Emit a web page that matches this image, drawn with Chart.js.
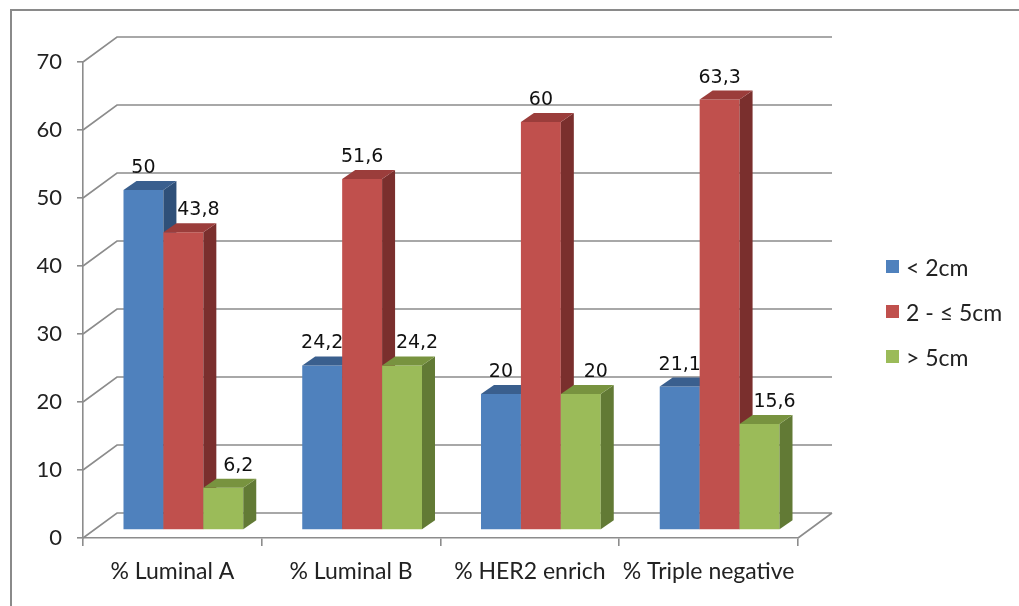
<!DOCTYPE html>
<html>
<head>
<meta charset="utf-8">
<title>Tumour size by molecular subtype</title>
<script src="https://cdn.jsdelivr.net/npm/chart.js@4.4.1/dist/chart.umd.min.js"></script>
<style>
  html, body { margin: 0; padding: 0; background: #fff; }
  #wrap { position: relative; width: 1019px; height: 606px; overflow: hidden; }
  #frame { position: absolute; left: 10px; top: 9px; width: 1100px; height: 700px;
           border-left: 2px solid #8a8a8a; border-top: 2px solid #8a8a8a; }
  #chart { position: absolute; left: 0; top: 0; }
  #legend { position: absolute; left: 886px; top: 244px; font: 23px Lato, sans-serif; color: #222; }
  #legend .item { height: 45px; display: flex; align-items: center; }
  #legend .sw { width: 13px; height: 13px; margin-right: 7px; }
</style>
</head>
<body>
<div id="wrap">
  <div id="frame"></div>
  <canvas id="chart" width="1019" height="606"></canvas>
  <div id="legend"></div>
</div>
<script>
// ===== DATA =====
const CATEGORIES = ['% Luminal A', '% Luminal B', '% HER2 enrich', '% Triple negative'];
const SERIES = ['< 2cm', '2 - ≤ 5cm', '> 5cm'];
const UNDER_2 = [50, 24.2, 20, 21.1];
const FROM_2_TO_5 = [43.8, 51.6, 60, 63.3];
const OVER_5 = [6.2, 24.2, 20, 15.6];
const Y_MAX = 70;
const Y_STEP = 10;

// front / top / side shades per series
const FRONT = ['#4f81bd', '#c0504d', '#9bbb59'];
const TOP = ['#3a5f8e', '#9b3d3b', '#78933f'];
const SIDE = ['#2f5079', '#7a2f2d', '#627a35'];

// ===== 3D LOOK =====
const WALL = { x: 34, y: -25 };      // depth of the back wall
const BAR_SHIFT = { x: 11, y: -8 };  // bars stand a third of the way into the floor
const BAR_DEPTH = { x: 13, y: -9 };  // thickness of each bar
const LINE = '#8c8c8c';

const fmt = v => String(v).replace('.', ',');

const chart3d = {
  id: 'chart3d',
  beforeDatasetsDraw(chart) {
    const { ctx, chartArea: a, scales: { y } } = chart;

    // walls and floor
    ctx.save();
    ctx.strokeStyle = LINE;
    ctx.lineWidth = 1.6;
    ctx.beginPath();
    y.ticks.forEach(t => {
      const py = y.getPixelForValue(t.value);
      ctx.moveTo(a.left, py);
      ctx.lineTo(a.left + WALL.x, py + WALL.y);
      ctx.lineTo(a.right + WALL.x, py + WALL.y);
    });
    const floor = y.getPixelForValue(0);
    ctx.moveTo(a.right, floor);
    ctx.lineTo(a.right + WALL.x, floor + WALL.y);
    ctx.stroke();
    ctx.restore();

    // bars, left to right so each front hides its neighbour's side
    const metas = chart.data.datasets.map((_, i) => chart.getDatasetMeta(i));
    ctx.save();
    ctx.translate(BAR_SHIFT.x, BAR_SHIFT.y);
    CATEGORIES.forEach((_, idx) => {
      metas.forEach((meta, di) => {
        const bar = meta.data[idx];
        const { x, y: top, base, width } = bar.getProps(['x', 'y', 'base', 'width'], true);
        const l = x - width / 2, r = x + width / 2;
        bar.draw(ctx);
        ctx.fillStyle = SIDE[di];
        ctx.beginPath();
        ctx.moveTo(r, base);
        ctx.lineTo(r, top);
        ctx.lineTo(r + BAR_DEPTH.x, top + BAR_DEPTH.y);
        ctx.lineTo(r + BAR_DEPTH.x, base + BAR_DEPTH.y);
        ctx.closePath();
        ctx.fill();
        ctx.fillStyle = TOP[di];
        ctx.beginPath();
        ctx.moveTo(l, top);
        ctx.lineTo(r, top);
        ctx.lineTo(r + BAR_DEPTH.x, top + BAR_DEPTH.y);
        ctx.lineTo(l + BAR_DEPTH.x, top + BAR_DEPTH.y);
        ctx.closePath();
        ctx.fill();
      });
    });

    // value labels; nudged right when the bar to the left is taller
    ctx.font = '19px "DejaVu Sans"';
    ctx.fillStyle = '#111';
    ctx.textAlign = 'center';
    ctx.textBaseline = 'alphabetic';
    metas.forEach((meta, di) => {
      const values = chart.data.datasets[di].data;
      meta.data.forEach((bar, idx) => {
        const prev = di > 0 ? chart.data.datasets[di - 1].data[idx] : -Infinity;
        const shift = prev > values[idx] ? 15 : 0;
        ctx.fillText(fmt(values[idx]), bar.x + shift, bar.y - 17);
      });
    });
    ctx.restore();
    return false;
  }
};

new Chart(document.getElementById('chart'), {
  type: 'bar',
  data: {
    labels: CATEGORIES,
    datasets: [UNDER_2, FROM_2_TO_5, OVER_5].map((d, i) => ({
      label: SERIES[i],
      data: d,
      backgroundColor: FRONT[i],
      borderWidth: 0,
      categoryPercentage: 0.67,
      barPercentage: 1
    }))
  },
  options: {
    responsive: false,
    animation: false,
    layout: { padding: { left: 0, right: 221, top: 62, bottom: 0 } },
    plugins: { legend: { display: false }, tooltip: { enabled: false } },
    scales: {
      x: {
        afterFit: s => { s.height = 68; },
        grid: { offset: true, drawOnChartArea: false, tickLength: 8, color: LINE, lineWidth: 1.6 },
        border: { color: LINE, width: 1.6 },
        ticks: { font: { family: 'Lato', size: 23 }, color: '#222', padding: 12, maxRotation: 0 }
      },
      y: {
        min: 0, max: Y_MAX,
        afterFit: s => { s.width = 83; },
        grid: { drawOnChartArea: false, tickLength: 6, color: LINE, lineWidth: 1.6 },
        border: { color: LINE, width: 1.6 },
        ticks: { stepSize: Y_STEP, font: { family: 'Lato', size: 22 }, color: '#222', padding: 15 }
      }
    }
  },
  plugins: [chart3d]
});

// legend
const legend = document.getElementById('legend');
SERIES.forEach((name, i) => {
  const row = document.createElement('div');
  row.className = 'item';
  row.innerHTML = `<span class="sw" style="background:${FRONT[i]}"></span><span></span>`;
  row.lastChild.textContent = name;
  legend.appendChild(row);
});
</script>
</body>
</html>
